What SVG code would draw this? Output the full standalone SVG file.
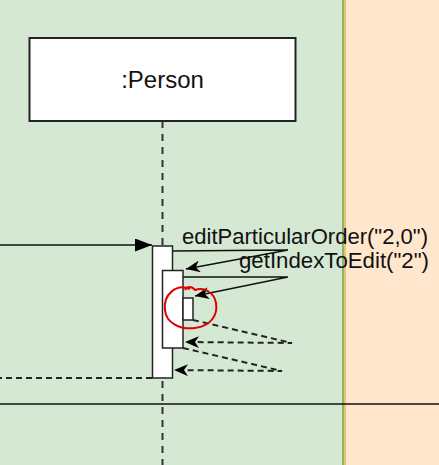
<svg xmlns="http://www.w3.org/2000/svg" width="439" height="465" viewBox="0 0 439 465">
  <style>
    .lbl { font-family: "Liberation Sans", Arial, sans-serif; fill: #111; }
    .box { fill: #ffffff; stroke: #222; stroke-width: 1.5; }
    .msg { fill: none; stroke: #111; stroke-width: 1.5; }
    .ret { fill: none; stroke: #222; stroke-width: 2; stroke-dasharray: 6 4; }
  </style>
  <defs>
    <marker id="block" markerUnits="userSpaceOnUse" markerWidth="17" markerHeight="13" refX="17" refY="6.5" orient="auto" viewBox="0 0 17 13">
      <path d="M0,0 L17,6.5 L0,13 z" fill="#000"/>
    </marker>
    <marker id="classic" markerUnits="userSpaceOnUse" markerWidth="14" markerHeight="12" refX="14" refY="6" orient="auto" viewBox="0 0 14 12">
      <path d="M0,0 L14,6 L0,12 L4,6 z" fill="#000"/>
    </marker>
  </defs>

  <g id="lanes">
    <rect x="0" y="0" width="344" height="465" fill="#d5e8d4"/>
    <rect x="344" y="0" width="95" height="465" fill="#ffe6cc"/>
    <line x1="343" y1="0" x2="343" y2="465" stroke="#8fb36a" stroke-width="2"/>
    <line x1="345" y1="0" x2="345" y2="465" stroke="#e0b84a" stroke-width="1.5"/>
  </g>

  <g id="person">
    <rect x="29.5" y="38" width="266" height="83" fill="#fff" stroke="#222" stroke-width="2"/>
    <text class="lbl" x="162.5" y="88" font-size="24" text-anchor="middle">:Person</text>
  </g>

  <g id="lifeline">
    <line x1="162.5" y1="121" x2="162.5" y2="465" stroke="#333" stroke-width="2" stroke-dasharray="7 6"/>
  </g>

  <g id="connectors">
    <line class="msg" x1="0" y1="245" x2="152" y2="245" marker-end="url(#block)"/>
    <path class="msg" d="M172,251 L288,250 L186,269" marker-end="url(#classic)"/>
    <path class="msg" d="M183,277 L288,277 L195,296" marker-end="url(#classic)"/>
    <path class="ret" d="M193,320 L292,343 L185,342" marker-end="url(#classic)"/>
    <path class="ret" d="M183,348 L282,371 L174,370" marker-end="url(#classic)"/>
    <line class="ret" x1="152" y1="378" x2="0" y2="378"/>
    <line x1="0" y1="404" x2="439" y2="404" stroke="#111" stroke-width="1.5"/>
  </g>

  <g id="activation-outer">
    <rect class="box" x="152.5" y="246" width="20" height="132"/>
  </g>
  <g id="activation-inner">
    <rect class="box" x="162.5" y="270.5" width="20.5" height="77.5"/>
  </g>
  <g id="activation-small">
    <rect class="box" x="183" y="298" width="10" height="22"/>
  </g>

  <g id="labels">
    <text class="lbl" x="182" y="244" font-size="21.5" textLength="246" lengthAdjust="spacingAndGlyphs">editParticularOrder("2,0")</text>
    <text class="lbl" x="239" y="268" font-size="21.5" textLength="190" lengthAdjust="spacingAndGlyphs">getIndexToEdit("2")</text>
  </g>

  <g id="annotation">
    <path d="M190,289 C176,283 163,295 165,310 C166,323 180,330 195,328 C211,326 218,315 216,303 C214,292 204,287 195,290 C192,286 187,286 185,290" fill="none" stroke="#e00000" stroke-width="2"/>
  </g>
</svg>
